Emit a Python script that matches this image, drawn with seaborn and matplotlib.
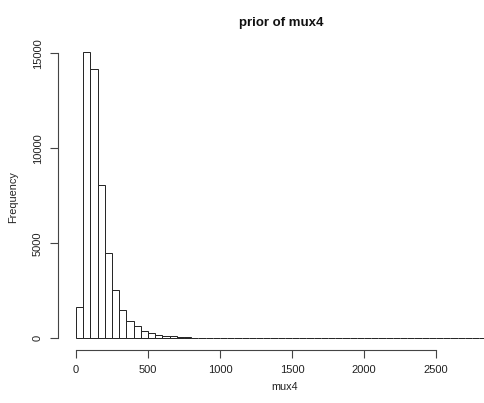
import numpy as np
import matplotlib
matplotlib.use("Agg")
import matplotlib.pyplot as plt
import seaborn as sns

# Histogram of prior draws of mux4 (bin width 50)
bin_edges = list(range(0, 3150, 50))
counts = [1640, 15050, 14150, 8080, 4500, 2560, 1480, 920, 620, 390,
          265, 180, 130, 95, 70, 55, 40, 30, 22, 18,
          14, 11, 9, 7, 6, 5, 3, 2, 15, 2,
          1, 1, 1, 0, 1, 0, 0, 1, 0, 0,
          0, 0, 0, 0, 0, 0, 0, 0, 0, 0,
          0, 0, 0, 0, 0, 0, 0, 0, 0, 0,
          0, 1]
bin_centers = [e + 25 for e in bin_edges[:-1]]
x_ticks = [0, 500, 1000, 1500, 2000, 2500]
y_ticks = [0, 5000, 10000, 15000]

sns.set_style("white")
plt.rcParams['font.family'] = ['Liberation Sans', 'DejaVu Sans']

fig = plt.figure(figsize=(4.84, 4.03), dpi=100)
ax = fig.add_axes([58.3 / 484, 1 - 349.7 / 403, (484 - 58.3) / 484, (349.7 - 40.9) / 403])

sns.histplot(x=bin_centers, weights=counts, bins=bin_edges, ax=ax,
             color='white', edgecolor='#222222', linewidth=0.7, alpha=1)

ax.set_xlim(-123, 2833)
ax.set_ylim(-602, 15652)

for s in ['top', 'right']:
    ax.spines[s].set_visible(False)
ax.spines['left'].set_bounds(0, 15000)
ax.spines['bottom'].set_bounds(0, 2500)
for s in ['left', 'bottom']:
    ax.spines[s].set_color('#444444')
    ax.spines[s].set_linewidth(0.8)

ax.set_xticks(x_ticks)
ax.set_yticks(y_ticks)
ax.set_xticklabels([str(t) for t in x_ticks])
ax.set_yticklabels([str(t) for t in y_ticks], rotation=90, va='center')
ax.tick_params(axis='both', direction='out', length=6, width=0.8, color='#444444',
               labelsize=8, labelcolor='#222222', pad=5, bottom=True, left=True)

ax.set_xlabel('')
ax.set_ylabel('')
fig.text(285 / 484, 1 - 387 / 403, 'mux4', ha='center', va='center', fontsize=7.8, color='#222222')
fig.text(13 / 484, 1 - 197 / 403, 'Frequency', ha='center', va='center', rotation=90,
         fontsize=7.8, color='#222222')
fig.text(281 / 484, 1 - 23 / 403, 'prior of mux4', ha='center', va='center', fontsize=9.5,
         fontweight='bold', color='#111111')

fig.savefig('out.png', dpi=100)
